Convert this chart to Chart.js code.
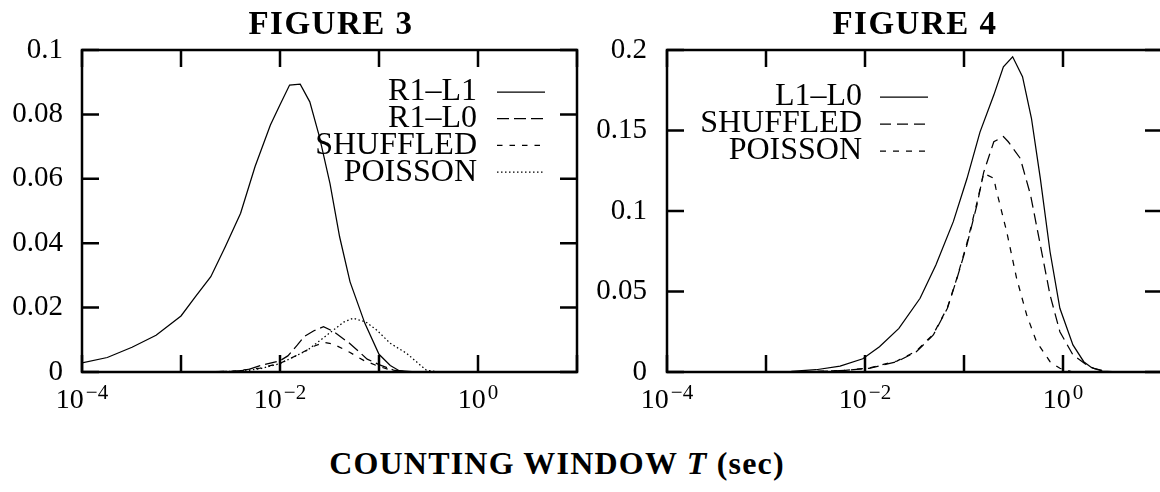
<!DOCTYPE html>
<html><head><meta charset="utf-8">
<script src="https://cdn.jsdelivr.net/npm/chart.js@4.4.1/dist/chart.umd.min.js"></script>
<style>
html,body{margin:0;padding:0;background:#fff;overflow:hidden;}
#wrap{position:relative;width:1160px;height:492px;overflow:hidden;background:#fff;}
canvas{position:absolute;top:0;}
#c3{left:0;}
#c4{left:580px;}
.ttl{position:absolute;font-family:'Liberation Serif',serif;font-weight:bold;white-space:nowrap;transform:translateX(-50%);color:#000;}
</style></head>
<body><div id="wrap">
<canvas id="c3" width="600" height="420"></canvas>
<canvas id="c4" width="600" height="420"></canvas>
<div class="ttl" style="left:331px;top:7px;font-size:33px;line-height:33px;letter-spacing:1.5px;">FIGURE 3</div>
<div class="ttl" style="left:915px;top:7px;font-size:33px;line-height:33px;letter-spacing:1.5px;">FIGURE 4</div>
<div class="ttl" style="left:557px;top:447px;font-size:32px;line-height:32px;letter-spacing:1.2px;">COUNTING WINDOW <i>T</i> (sec)</div>
</div>
<script>
// ---- tick values / labels ----
const xTickValues = [1e-4, 1e-3, 1e-2, 1e-1, 1, 10];
const xTickBase = '10';
const xTickExponents = ['\u22124', '', '\u22122', '', '0', ''];
const fig3YTickValues = [0, 0.02, 0.04, 0.06, 0.08, 0.1];
const fig3YTickLabels = ['0', '0.02', '0.04', '0.06', '0.08', '0.1'];
const fig4YTickValues = [0, 0.05, 0.1, 0.15, 0.2];
const fig4YTickLabels = ['0', '0.05', '0.1', '0.15', '0.2'];

// ---- FIGURE 3 series ----
const fig3SeriesNames = ['R1\u2013L1', 'R1\u2013L0', 'SHUFFLED', 'POISSON'];
const fig3_R1L1_T = [1e-4, 1.8e-4, 3.2e-4, 5.6e-4, 1e-3, 1.4e-3, 2e-3, 2.8e-3, 4e-3, 5.6e-3, 8e-3, 1e-2, 1.25e-2, 1.6e-2, 2e-2, 2.5e-2, 3.2e-2, 4e-2, 5.1e-2, 7.2e-2, 0.1, 0.13, 0.16, 0.25, 1];
const fig3_R1L1_P = [0.0028, 0.0045, 0.0077, 0.0114, 0.0174, 0.0234, 0.0296, 0.0389, 0.0493, 0.0638, 0.0767, 0.0830, 0.0891, 0.0894, 0.0839, 0.0731, 0.0585, 0.0420, 0.0280, 0.0151, 0.0055, 0.0020, 0.0004, 0, 0];
const fig3_R1L0_T = [1e-3, 3.2e-3, 4.6e-3, 6.3e-3, 1e-2, 1.2e-2, 1.5e-2, 1.75e-2, 2.2e-2, 2.75e-2, 3.5e-2, 5.1e-2, 7.6e-2, 0.1, 0.14, 0.2, 1];
const fig3_R1L0_P = [0, 0.0002, 0.0006, 0.0020, 0.0035, 0.0050, 0.0084, 0.0110, 0.0128, 0.0141, 0.0125, 0.0088, 0.0040, 0.0023, 0.0006, 0, 0];
const fig3_SHUF_T = [1e-3, 3.2e-3, 6.3e-3, 1e-2, 1.6e-2, 2.2e-2, 2.8e-2, 3.5e-2, 5e-2, 7e-2, 0.1, 0.14, 0.2, 1];
const fig3_SHUF_P = [0, 0.0002, 0.0012, 0.0027, 0.0057, 0.0080, 0.0092, 0.0086, 0.0062, 0.0036, 0.0017, 0.0004, 0, 0];
const fig3_POIS_T = [1e-3, 4e-3, 6.3e-3, 1e-2, 1.9e-2, 3.2e-2, 4.4e-2, 5.5e-2, 7.4e-2, 9.5e-2, 0.13, 0.19, 0.26, 0.3, 0.4, 1];
const fig3_POIS_P = [0, 0.0002, 0.0010, 0.0026, 0.0068, 0.0122, 0.0155, 0.0167, 0.0155, 0.0130, 0.0089, 0.0058, 0.0022, 0.0006, 0, 0];

// ---- FIGURE 4 series ----
const fig4SeriesNames = ['L1\u2013L0', 'SHUFFLED', 'POISSON'];
const fig4_L1L0_T = [1e-3, 1.8e-3, 3.2e-3, 5.6e-3, 9.5e-3, 1.4e-2, 2.2e-2, 3.6e-2, 5.2e-2, 7.8e-2, 0.107, 0.145, 0.2, 0.25, 0.31, 0.39, 0.48, 0.59, 0.74, 0.93, 1.26, 1.62, 1.95, 2.5, 4, 10];
const fig4_L1L0_P = [0.0001, 0.0004, 0.0014, 0.0037, 0.0082, 0.0157, 0.0271, 0.0458, 0.0665, 0.0934, 0.1200, 0.1490, 0.1720, 0.1896, 0.1958, 0.1834, 0.1576, 0.1203, 0.0747, 0.0396, 0.0168, 0.0064, 0.0027, 0.0005, 0, 0];
const fig4_SHUF_T = [1e-3, 3.2e-3, 6.3e-3, 1.1e-2, 2.1e-2, 3.3e-2, 4.9e-2, 6.8e-2, 8.5e-2, 0.107, 0.135, 0.158, 0.2, 0.25, 0.28, 0.37, 0.47, 0.59, 0.74, 0.93, 1.26, 1.74, 2.04, 2.8, 4];
const fig4_SHUF_P = [0, 0.0003, 0.0010, 0.0023, 0.0064, 0.0126, 0.0230, 0.0396, 0.0582, 0.0789, 0.1037, 0.1240, 0.1430, 0.1462, 0.1430, 0.1327, 0.1100, 0.0789, 0.0478, 0.0250, 0.0106, 0.0043, 0.0023, 0.0003, 0];
const fig4_POIS_T = [1e-3, 3.2e-3, 6.3e-3, 1.1e-2, 2.1e-2, 3.3e-2, 4.9e-2, 6.8e-2, 8.5e-2, 0.107, 0.135, 0.158, 0.2, 0.21, 0.27, 0.34, 0.43, 0.54, 0.74, 0.93, 1.26, 4];
const fig4_POIS_P = [0, 0.0003, 0.0010, 0.0025, 0.0068, 0.0130, 0.0235, 0.0400, 0.0585, 0.0800, 0.1050, 0.1234, 0.1203, 0.1140, 0.0871, 0.0582, 0.0354, 0.0188, 0.0064, 0.0023, 0, 0];

function pts(T, P) { return T.map((t, i) => ({x: t, y: P[i]})); }

const FONT = "'Liberation Serif', serif";

const frameLegendPlugin = {
  id: 'frameLegend',
  afterDatasetsDraw(chart, args, opts) {
    const ctx = chart.ctx, a = chart.chartArea, xs = chart.scales.x, ys = chart.scales.y;
    ctx.save();
    ctx.strokeStyle = '#000';
    ctx.lineWidth = 2.5;
    ctx.setLineDash([]);
    ctx.strokeRect(a.left, a.top, a.right - a.left, a.bottom - a.top);
    const L = 17;
    ctx.beginPath();
    xs.ticks.forEach(t => {
      const px = xs.getPixelForValue(t.value);
      ctx.moveTo(px, a.bottom); ctx.lineTo(px, a.bottom - L);
      ctx.moveTo(px, a.top); ctx.lineTo(px, a.top + L);
    });
    ys.ticks.forEach(t => {
      const py = ys.getPixelForValue(t.value);
      ctx.moveTo(a.left, py); ctx.lineTo(a.left + L, py);
      ctx.moveTo(a.right, py); ctx.lineTo(a.right - L, py);
    });
    ctx.stroke();

    // x tick labels: "10" with raised exponent
    ctx.fillStyle = '#000';
    ctx.textBaseline = 'alphabetic';
    ctx.textAlign = 'left';
    xs.ticks.forEach((t, i) => {
      const exp = xTickExponents[i];
      if (!exp) return;
      const px = xs.getPixelForValue(t.value);
      ctx.font = '28px ' + FONT;
      const w1 = ctx.measureText(xTickBase).width;
      ctx.font = '21px ' + FONT;
      const w2 = ctx.measureText(exp).width;
      const x0 = px - (w1 + 2 + w2) / 2;
      ctx.font = '28px ' + FONT;
      ctx.fillText(xTickBase, x0, a.bottom + 36);
      ctx.font = '21px ' + FONT;
      ctx.fillText(exp, x0 + w1 + 2, a.bottom + 27);
    });

    // key (gnuplot style: right-aligned text, sample to its right)
    const base = opts.anchor === 'right' ? a.right : a.left;
    ctx.font = '32px ' + FONT;
    ctx.textAlign = 'right';
    ctx.textBaseline = 'middle';
    chart.data.datasets.forEach((ds, i) => {
      const y = a.top + opts.firstRow + i * opts.rowStep;
      ctx.fillText(ds.label, base + opts.textRight, y);
      ctx.beginPath();
      ctx.lineWidth = ds.borderWidth;
      ctx.setLineDash(ds.borderDash || []);
      ctx.moveTo(base + opts.lineStart, y);
      ctx.lineTo(base + opts.lineEnd, y);
      ctx.stroke();
    });
    ctx.restore();
  }
};

function makeChart(id, datasets, yMax, yVals, yLabels, yWidth, padRight, legendOpts, yPad) {
  return new Chart(document.getElementById(id), {
    type: 'line',
    data: { datasets },
    options: {
      responsive: false,
      animation: false,
      devicePixelRatio: 1,
      layout: { padding: { top: 50, right: padRight, left: 0, bottom: 0 } },
      elements: { point: { radius: 0 }, line: { tension: 0 } },
      plugins: { legend: { display: false }, tooltip: { enabled: false }, title: { display: false }, frameLegend: legendOpts },
      scales: {
        x: {
          type: 'logarithmic', min: 1e-4, max: 10,
          grid: { display: false, drawTicks: false }, border: { display: false },
          afterBuildTicks: s => { s.ticks = xTickValues.map(v => ({ value: v })); },
          afterFit: s => { s.height = 48; },
          ticks: { display: false, autoSkip: false, maxRotation: 0, padding: 0 }
        },
        y: {
          type: 'linear', min: 0, max: yMax,
          grid: { display: false, drawTicks: false }, border: { display: false },
          afterBuildTicks: s => { s.ticks = yVals.map(v => ({ value: v })); },
          afterFit: s => { s.width = yWidth; },
          ticks: {
            padding: yPad, color: '#000',
            font: { family: FONT, size: 29 },
            callback: (v, i) => yLabels[i]
          }
        }
      }
    },
    plugins: [frameLegendPlugin]
  });
}

const lineBase = { borderColor: '#000', borderWidth: 1.25, fill: false, pointRadius: 0 };

makeChart('c3', [
  Object.assign({ label: fig3SeriesNames[0], data: pts(fig3_R1L1_T, fig3_R1L1_P), borderDash: [] }, lineBase),
  Object.assign({ label: fig3SeriesNames[1], data: pts(fig3_R1L0_T, fig3_R1L0_P), borderDash: [12, 5] }, lineBase),
  Object.assign({ label: fig3SeriesNames[2], data: pts(fig3_SHUF_T, fig3_SHUF_P), borderDash: [5.5, 7] }, lineBase),
  Object.assign({ label: fig3SeriesNames[3], data: pts(fig3_POIS_T, fig3_POIS_P), borderDash: [1.5, 2.5] }, lineBase)
], 0.1, fig3YTickValues, fig3YTickLabels, 82, 23,
  { anchor: 'right', textRight: -100, lineStart: -80, lineEnd: -32, firstRow: 42, rowStep: 26.7 }, 19);

makeChart('c4', [
  Object.assign({ label: fig4SeriesNames[0], data: pts(fig4_L1L0_T, fig4_L1L0_P), borderDash: [] }, lineBase),
  Object.assign({ label: fig4SeriesNames[1], data: pts(fig4_SHUF_T, fig4_SHUF_P), borderDash: [11, 6] }, lineBase),
  Object.assign({ label: fig4SeriesNames[2], data: pts(fig4_POIS_T, fig4_POIS_P), borderDash: [6, 7] }, lineBase)
], 0.2, fig4YTickValues, fig4YTickLabels, 87, 18,
  { anchor: 'left', textRight: 195, lineStart: 213, lineEnd: 261, firstRow: 47, rowStep: 27 }, 20);
</script>
</body></html>
